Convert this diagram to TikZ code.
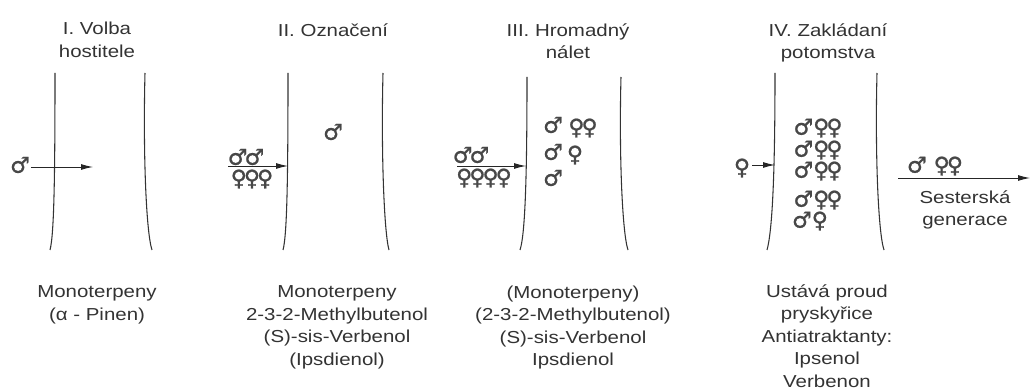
\documentclass[tikz,border=0pt]{standalone}
\usepackage{fontspec}
\setmainfont{Liberation Sans}[FakeStretch=1.18]
\newfontfamily\symf{DejaVu Sans}[FakeBold=0.9]
\usetikzlibrary{arrows.meta}
\newcommand{\fk}{\kern-2.2pt}
\begin{document}
\begin{tikzpicture}[x=0.75pt,y=-0.75pt,
  bark/.style={line width=0.8pt, draw=black!80},
  arr/.style={line width=0.7pt, draw=black!85, -{Latex[length=9pt,width=4.5pt]}},
  lbl/.style={font=\fontsize{13}{16.9}\selectfont, align=center, inner sep=0pt, text=black!80},
  sym/.style={font=\symf\fontsize{16.5}{16.5}\selectfont, inner sep=0pt, text=black!72}]
\useasboundingbox (0,0) rectangle (1030,391);

% ---------- Panel I ----------
\node[lbl] (t1) at (97,40) {I. Volba\\hostitele};
\draw[bark] (55,73) .. controls (55,180) and (54,235) .. (50,250);
\draw[bark] (145,73) .. controls (143,150) and (146,232) .. (152,250);
\node[sym] (m1) at (20,165) {♂};
\coordinate (a1) at (93,168);
\draw[arr] (m1.east) ++(0.5pt,-1.5pt) coordinate (s1) -- (s1 -| a1);
\node[lbl] (b1) at (97,305) {Monoterpeny\\(α - Pinen)};

% ---------- Panel II ----------
\node[lbl] (t2) at (333,30) {II. Označení};
\draw[bark] (288,73) .. controls (288,180) and (287,235) .. (283,250);
\draw[bark] (383,73) .. controls (381,150) and (384,232) .. (389,250);
\node[sym] (m2i) at (333,132) {♂};
\node[sym] (m2o) at (246,157) {♂\fk♂};
\node[sym] (f2o) at (252,179) {♀\fk♀\fk♀};
\coordinate (s2) at (228,166);
\coordinate (e2) at (288,166);
\draw[arr] (s2) -- (e2);
\node[lbl] (b2) at (337,327.5) {Monoterpeny\\2-3-2-Methylbutenol\\(S)-sis-Verbenol\\(Ipsdienol)};

% ---------- Panel III ----------
\node[lbl] (t3) at (568,41) {III. Hromadný\\nálet};
\draw[bark] (527,77) .. controls (527,180) and (525,235) .. (520,250);
\draw[bark] (621,77) .. controls (619,150) and (622,232) .. (628,250);
\node[sym] (m3o) at (471,155) {♂\fk♂};
\node[sym] (f3o) at (484,178) {♀\fk♀\fk♀\fk♀};
\coordinate (s3) at (457,166);
\coordinate (e3) at (526,166);
\draw[arr] (s3) -- (e3);
\node[sym] (m3a) at (553,125) {♂};
\node[sym] (f3a) at (583,128) {♀\fk♀};
\node[sym] (m3b) at (553,152) {♂};
\node[sym] (f3b) at (575,155) {♀};
\node[sym] (m3c) at (553,178) {♂};
\node[lbl] (b3) at (573,327.5) {(Monoterpeny)\\(2-3-2-Methylbutenol)\\(S)-sis-Verbenol\\Ipsdienol};

% ---------- Panel IV ----------
\node[lbl] (t4) at (828,43) {IV. Zakládaní\\potomstva};
\draw[bark] (775,73) .. controls (775,180) and (772,232) .. (767,250);
\draw[bark] (877,73) .. controls (875,150) and (878,232) .. (884,250);
\node[sym] (f4o) at (742,168) {♀};
\coordinate (s4) at (752,165);
\coordinate (e4) at (775,165);
\draw[arr] (s4) -- (e4);
\node[sym] (r1) at (818,128) {♂\kern0pt♀\fk♀};
\node[sym] (r2) at (818,150) {♂\kern0pt♀\fk♀};
\node[sym] (r3) at (818,171) {♂\kern0pt♀\fk♀};
\node[sym] (r4) at (818,200) {♂\kern0pt♀\fk♀};
\node[sym] (r5) at (810,221) {♂\kern0pt♀};
\node[sym] (g4) at (935,166) {♂ ♀\fk♀};
\coordinate (s5) at (898,178);
\coordinate (e5) at (1030,178);
\draw[arr] (s5) -- (e5);
\node[lbl] (sg) at (965,210) {Sesterská\\generace};
\node[lbl] (b4) at (827,336) {Ustává proud\\pryskyřice\\Antiatraktanty:\\Ipsenol\\Verbenon};
\end{tikzpicture}
\end{document}
